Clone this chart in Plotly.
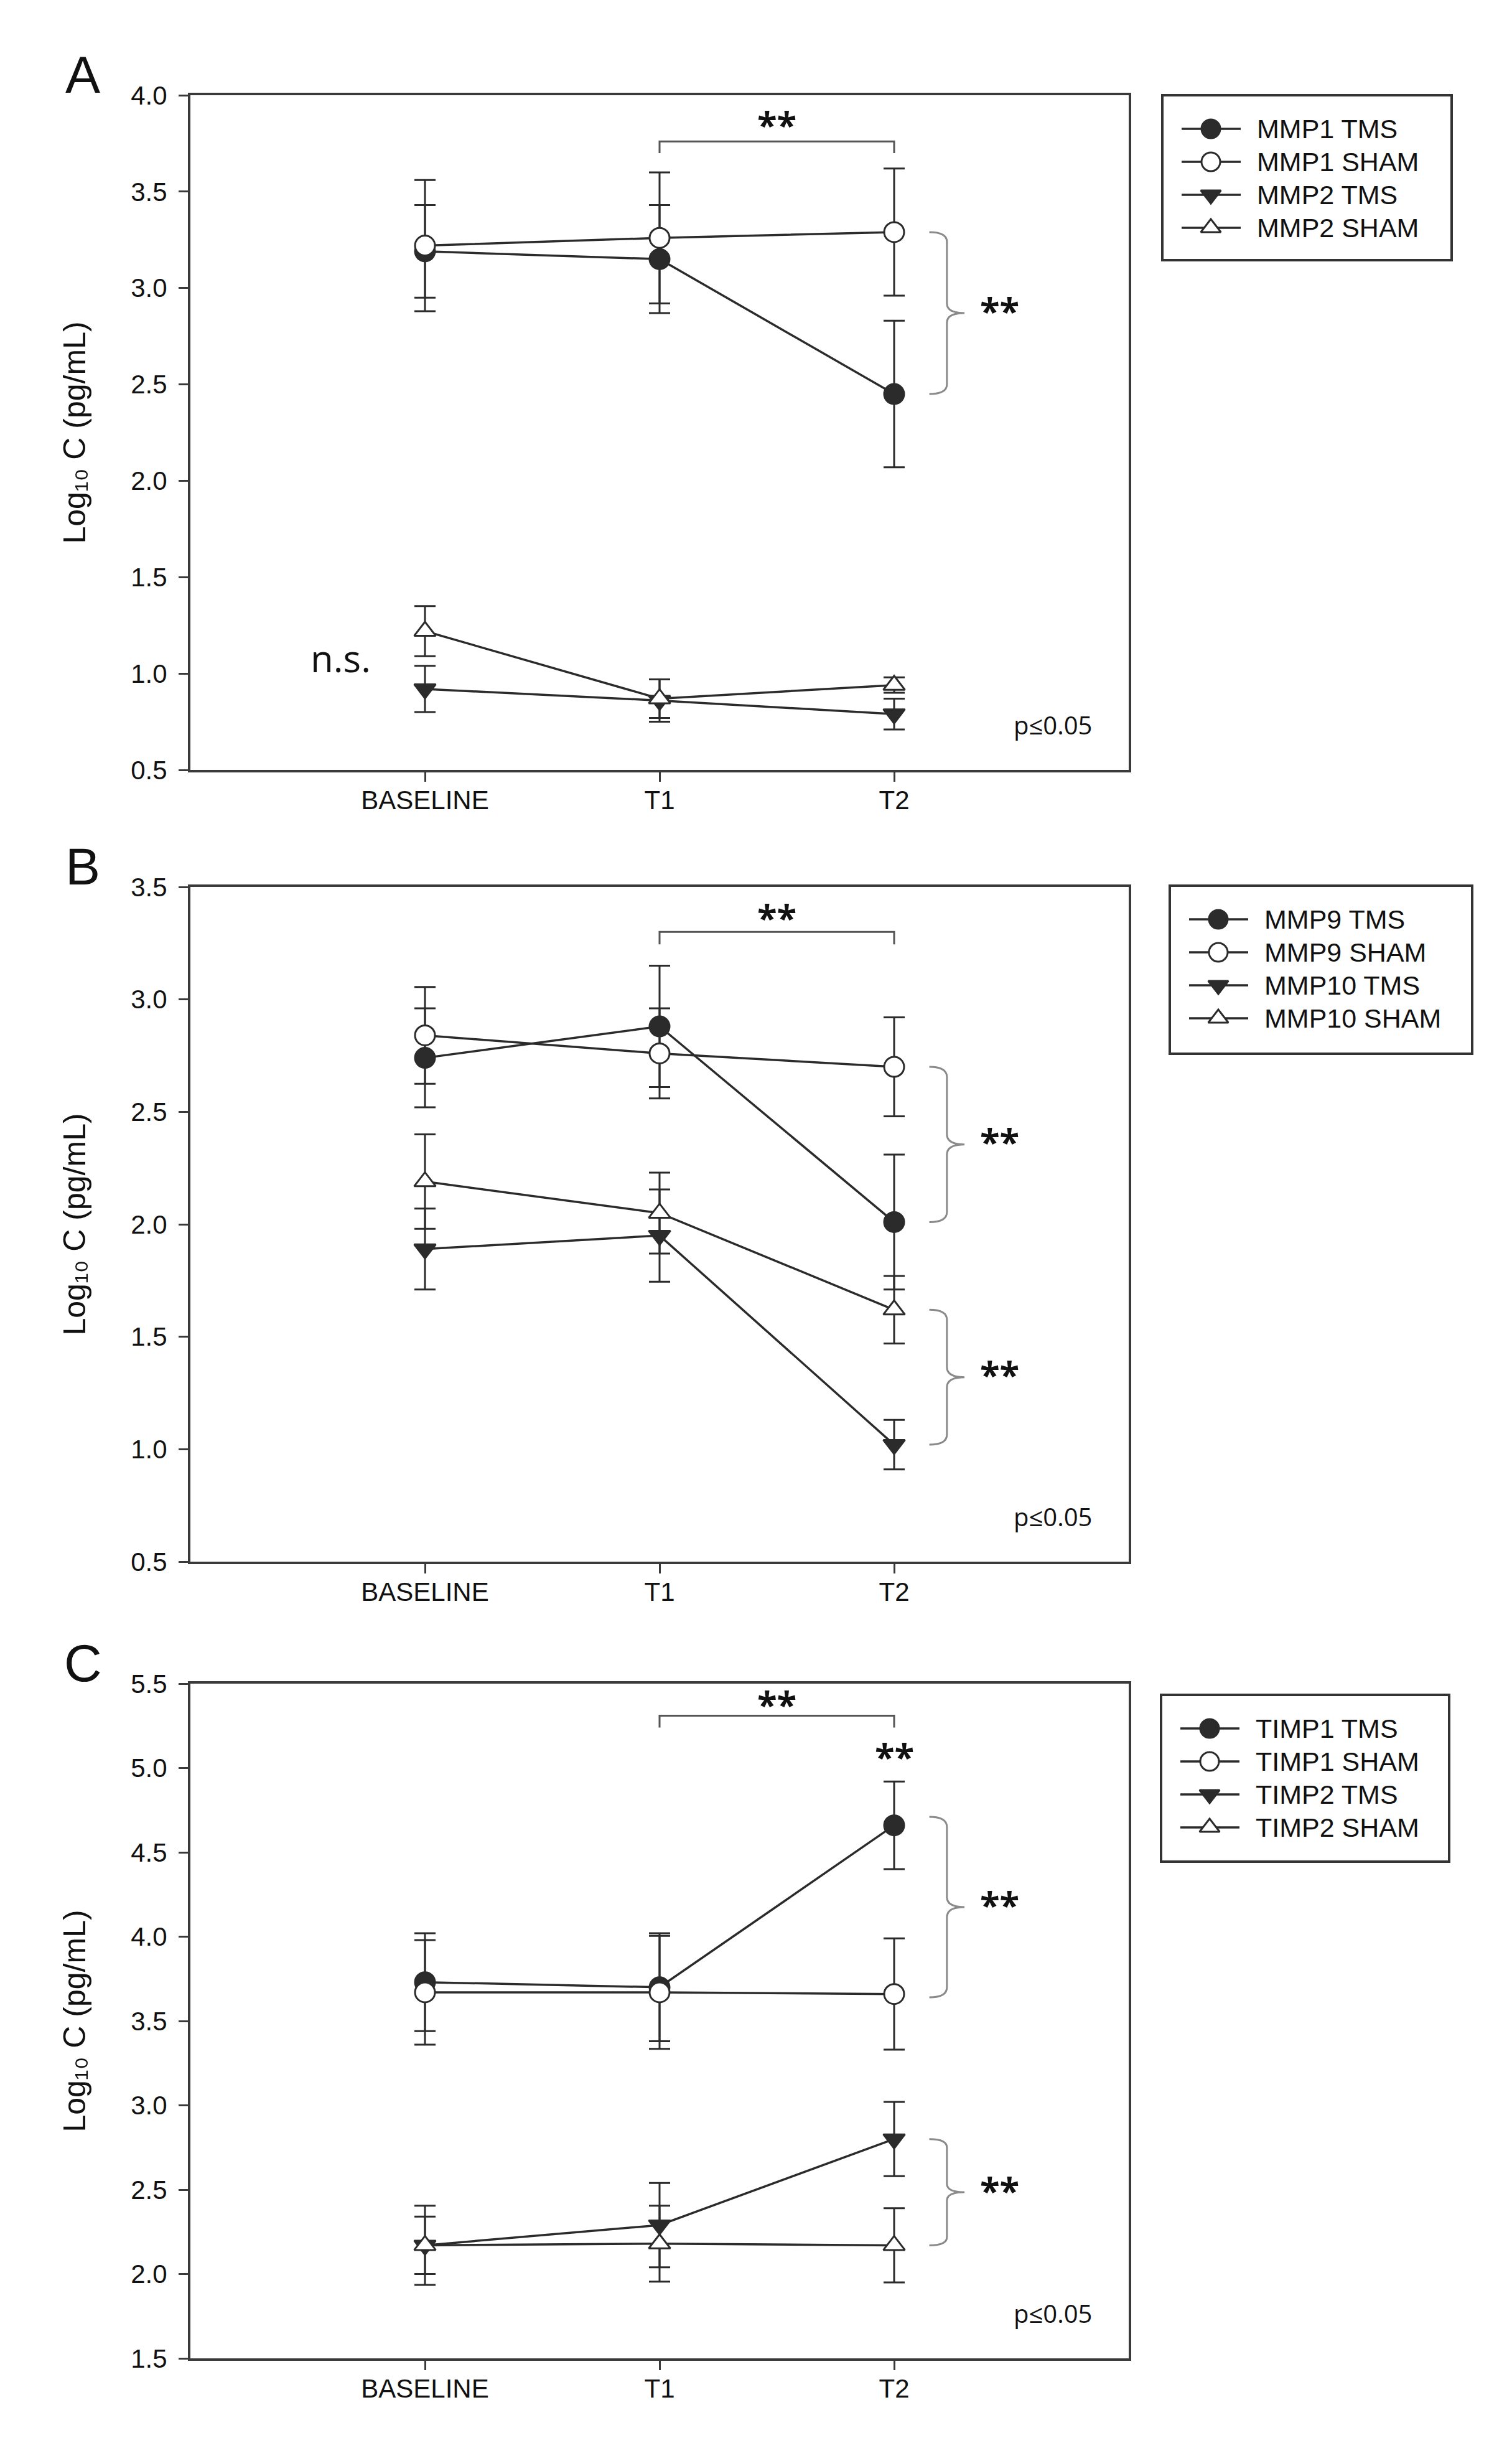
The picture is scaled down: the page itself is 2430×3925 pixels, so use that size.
import plotly.graph_objects as go

# ---------------- data ----------------
timepoints = ["BASELINE", "T1", "T2"]
xpos = [0, 1, 2]

# Panel A
mmp1_tms = [3.19, 3.15, 2.45]
mmp1_tms_err = [0.24, 0.28, 0.38]
mmp1_sham = [3.22, 3.26, 3.29]
mmp1_sham_err = [0.34, 0.34, 0.33]
mmp2_tms = [0.92, 0.86, 0.79]
mmp2_tms_err = [0.12, 0.11, 0.08]
mmp2_sham = [1.22, 0.87, 0.94]
mmp2_sham_err = [0.13, 0.10, 0.04]

# Panel B
mmp9_tms = [2.74, 2.88, 2.01]
mmp9_tms_err = [0.22, 0.27, 0.30]
mmp9_sham = [2.84, 2.76, 2.70]
mmp9_sham_err = [0.215, 0.20, 0.22]
mmp10_tms = [1.89, 1.95, 1.02]
mmp10_tms_err = [0.18, 0.205, 0.11]
mmp10_sham = [2.19, 2.05, 1.62]
mmp10_sham_err = [0.21, 0.18, 0.15]

# Panel C
timp1_tms = [3.73, 3.70, 4.66]
timp1_tms_err = [0.29, 0.32, 0.26]
timp1_sham = [3.67, 3.67, 3.66]
timp1_sham_err = [0.31, 0.335, 0.33]
timp2_tms = [2.17, 2.29, 2.80]
timp2_tms_err = [0.17, 0.25, 0.22]
timp2_sham = [2.17, 2.18, 2.17]
timp2_sham_err = [0.235, 0.225, 0.22]

yranges = [[0.5, 4.0], [0.5, 3.5], [1.5, 5.5]]
ytitle = "Log₁₀ C (pg/mL)"
pnote = "p≤0.05"

# ---------------- style ----------------
W, H = 2430, 3925
LINE = "#2b2b2b"
AXC = "#3a3a3a"
FONT = "Liberation Sans, Arial, sans-serif"
ANN_FONT = "Open Sans, Liberation Sans, sans-serif"

x_left, x_right = 298, 1806
panel_tops = [145, 1417, 2697]
panel_h = 1084

styles = {
    "tms_c": dict(symbol="circle", color=LINE, size=32),
    "sham_c": dict(symbol="circle", color="white", size=32),
    "tms_t": dict(symbol="triangle-down", color=LINE, size=30),
    "sham_t": dict(symbol="triangle-up", color="white", size=30),
}

fig = go.Figure()

panels = [
    [("MMP1 TMS", mmp1_tms, mmp1_tms_err, "tms_c"),
     ("MMP1 SHAM", mmp1_sham, mmp1_sham_err, "sham_c"),
     ("MMP2 TMS", mmp2_tms, mmp2_tms_err, "tms_t"),
     ("MMP2 SHAM", mmp2_sham, mmp2_sham_err, "sham_t")],
    [("MMP9 TMS", mmp9_tms, mmp9_tms_err, "tms_c"),
     ("MMP9 SHAM", mmp9_sham, mmp9_sham_err, "sham_c"),
     ("MMP10 TMS", mmp10_tms, mmp10_tms_err, "tms_t"),
     ("MMP10 SHAM", mmp10_sham, mmp10_sham_err, "sham_t")],
    [("TIMP1 TMS", timp1_tms, timp1_tms_err, "tms_c"),
     ("TIMP1 SHAM", timp1_sham, timp1_sham_err, "sham_c"),
     ("TIMP2 TMS", timp2_tms, timp2_tms_err, "tms_t"),
     ("TIMP2 SHAM", timp2_sham, timp2_sham_err, "sham_t")],
]

# legend boxes (pixel geometry)
legend_boxes = [(1860, 145, 465, 265), (1872, 1415, 486, 270), (1858, 2715, 463, 268)]
legend_rows = [54, 107, 160, 213]
leg_line = (31, 126)
leg_mark = 78
leg_text = 150

shapes = []
annotations = []

for pi, series in enumerate(panels):
    sfx = "" if pi == 0 else str(pi + 1)
    lsfx = str(pi + 4)
    for si, (name, vals, errs, st) in enumerate(series):
        s = styles[st]
        mk = dict(symbol=s["symbol"], size=s["size"], color=s["color"],
                  line=dict(color=LINE, width=3))
        fig.add_trace(go.Scatter(
            x=xpos, y=vals, name=name, mode="lines+markers",
            xaxis="x" + sfx, yaxis="y" + sfx, showlegend=False,
            line=dict(color=LINE, width=3.5), marker=mk,
            error_y=dict(type="data", array=errs, visible=True, color=LINE,
                         thickness=3, width=17),
        ))
        # legend entry drawn on a hidden helper axis
        row = legend_rows[si]
        fig.add_trace(go.Scatter(
            x=list(leg_line), y=[row, row], mode="lines", showlegend=False,
            xaxis="x" + lsfx, yaxis="y" + lsfx, hoverinfo="skip",
            line=dict(color=LINE, width=3.5)))
        fig.add_trace(go.Scatter(
            x=[leg_mark], y=[row], mode="markers", showlegend=False,
            xaxis="x" + lsfx, yaxis="y" + lsfx, hoverinfo="skip",
            marker=dict(symbol=s["symbol"], size=s["size"] - 2, color=s["color"],
                        line=dict(color=LINE, width=3))))
        annotations.append(dict(
            text=name, x=leg_text, y=row, xref="x" + lsfx, yref="y" + lsfx,
            showarrow=False, xanchor="left", yanchor="middle",
            font=dict(size=43, family=FONT, color="#111")))

layout = dict(
    width=W, height=H, paper_bgcolor="white", plot_bgcolor="white",
    margin=dict(l=0, r=0, t=0, b=0, autoexpand=False),
    font=dict(family=FONT, color="#111", size=42),
    showlegend=False,
)

for pi in range(3):
    sfx = "" if pi == 0 else str(pi + 1)
    lsfx = str(pi + 4)
    top = panel_tops[pi]
    bot = top + panel_h
    layout["xaxis" + sfx] = dict(
        domain=[x_left / W, x_right / W], anchor="y" + sfx,
        range=[-1, 3], tickvals=xpos, ticktext=timepoints,
        showline=True, linecolor=AXC, linewidth=4, mirror=True,
        ticks="outside", ticklen=15, tickwidth=3, tickcolor=AXC,
        showgrid=False, zeroline=False, ticklabelstandoff=-6,
        tickfont=dict(size=42, family=FONT, color="#111"),
    )
    layout["yaxis" + sfx] = dict(
        domain=[1 - bot / H, 1 - top / H], anchor="x" + sfx,
        range=yranges[pi], dtick=0.5, tick0=0.5, tickformat=".1f",
        showline=True, linecolor=AXC, linewidth=4, mirror=True,
        ticks="outside", ticklen=15, tickwidth=3, tickcolor=AXC,
        showgrid=False, zeroline=False, ticklabelstandoff=10,
        tickfont=dict(size=42, family=FONT, color="#111"),
        title=dict(text=ytitle, standoff=58,
                   font=dict(size=50, family=FONT, color="#111")),
    )
    # hidden helper axes for the legend
    L, T, BW, BH = legend_boxes[pi]
    layout["xaxis" + lsfx] = dict(
        domain=[L / W, (L + BW) / W], anchor="y" + lsfx, range=[0, BW],
        visible=False, fixedrange=True)
    layout["yaxis" + lsfx] = dict(
        domain=[1 - (T + BH) / H, 1 - T / H], anchor="x" + lsfx, range=[BH, 0],
        visible=False, fixedrange=True)
    shapes.append(dict(type="rect", xref="paper", yref="paper",
                       x0=L / W, x1=(L + BW) / W, y0=1 - (T + BH) / H, y1=1 - T / H,
                       line=dict(color="#333", width=4), layer="below"))
    # panel letter
    annotations.append(dict(
        text="ABC"[pi], x=125 / W, y=1 - (top - 33) / H, xref="paper", yref="paper",
        showarrow=False, font=dict(size=84, family=FONT, color="#111"),
        xanchor="center", yanchor="middle"))
    # p<=0.05
    annotations.append(dict(
        text=pnote, x=0.962, y=0.04, xref="x" + sfx + " domain",
        yref="y" + sfx + " domain", showarrow=False, xanchor="right", yanchor="bottom",
        font=dict(size=40, family=ANN_FONT, color="#111")))

STAR = dict(size=58, family=ANN_FONT, color="#111")

def top_bracket(sfx, y, d, star_y):
    shapes.append(dict(type="path", xref="x" + sfx, yref="y" + sfx,
                       path=f"M 1,{y - d} L 1,{y} L 2,{y} L 2,{y - d}",
                       line=dict(color="#555", width=3)))
    annotations.append(dict(text="<b>**</b>", x=1.5, y=star_y, xref="x" + sfx,
                            yref="y" + sfx, showarrow=False, font=STAR, yanchor="middle"))

def brace(sfx, ytop, ybot, dy):
    x0, x1, x2 = 2.15, 2.225, 2.30
    ym = (ytop + ybot) / 2
    p = (f"M {x0},{ytop} Q {x1},{ytop} {x1},{ytop - dy} L {x1},{ym + dy} "
         f"Q {x1},{ym} {x2},{ym} M {x1},{ym - dy} Q {x1},{ym} {x2},{ym} "
         f"M {x1},{ym - dy} L {x1},{ybot + dy} Q {x1},{ybot} {x0},{ybot}")
    shapes.append(dict(type="path", xref="x" + sfx, yref="y" + sfx, path=p,
                       line=dict(color="#8a8a8a", width=3)))
    annotations.append(dict(text="<b>**</b>", x=2.45, y=ym + dy * 0.3, xref="x" + sfx,
                            yref="y" + sfx, showarrow=False, font=STAR, yanchor="middle"))

# A
top_bracket("", 3.76, 0.06, 3.85)
brace("", mmp1_sham[2], mmp1_tms[2], 0.05)
annotations.append(dict(text="n.s.", x=-0.36, y=1.08, xref="x", yref="y", showarrow=False,
                        font=dict(size=60, family=ANN_FONT, color="#111")))
# B
top_bracket("2", 3.30, 0.055, 3.365)
brace("2", mmp9_sham[2], mmp9_tms[2], 0.045)
brace("2", mmp10_sham[2], mmp10_tms[2], 0.045)
# C
top_bracket("3", 5.31, 0.07, 5.38)
annotations.append(dict(text="<b>**</b>", x=2.0, y=5.07, xref="x3", yref="y3",
                        showarrow=False, font=STAR))
brace("3", timp1_tms[2] + 0.05, timp1_sham[2] - 0.02, 0.06)
brace("3", timp2_tms[2], timp2_sham[2], 0.05)

layout["shapes"] = shapes
layout["annotations"] = annotations
fig.update_layout(**layout)
fig.write_html("out.html")
